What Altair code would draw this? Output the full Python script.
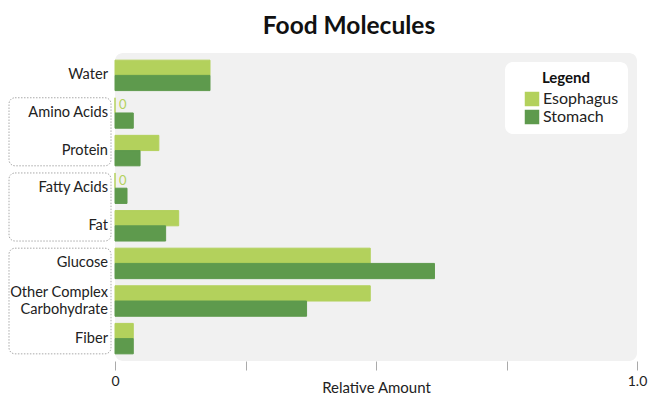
import altair as alt
import pandas as pd

categories = ["Water", "Amino Acids", "Protein", "Fatty Acids", "Fat",
              "Glucose", "Other Complex Carbohydrate", "Fiber"]
category_labels = ["Water", "Amino Acids", "Protein", "Fatty Acids", "Fat",
                   "Glucose", "Other Complex\nCarbohydrate", "Fiber"]
esophagus = [0.182, 0.0, 0.084, 0.0, 0.122, 0.489, 0.489, 0.035]
stomach = [0.182, 0.035, 0.048, 0.023, 0.097, 0.612, 0.367, 0.035]
organs = ["Esophagus", "Stomach"]
colors = ["#b3d15c", "#5e9a4d"]
group_start = ["Amino Acids", "Fatty Acids", "Glucose"]
group_end = ["Protein", "Fat", "Fiber"]

rows = []
for c, e, s in zip(categories, esophagus, stomach):
    rows.append({"category": c, "organ": "Esophagus", "value": e})
    rows.append({"category": c, "organ": "Stomach", "value": s})
df = pd.DataFrame(rows)
groups = pd.DataFrame({"start": group_start, "end": group_end})
labels_df = pd.DataFrame({"category": categories, "label": category_labels})
labels_df["lines"] = labels_df["label"].str.count("\n") + 1

FONT = "Lato"
yscale = alt.Scale(domain=categories, paddingInner=0.19, paddingOuter=0.19)
yaxis = alt.Axis(title=None, ticks=False, domain=False, labels=False)
xscale = alt.Scale(domain=[0, 1])
xaxis = alt.Axis(title="Relative Amount", values=[0, 0.25, 0.5, 0.75, 1.0],
                 labelExpr="datum.value == 0 ? '0' : (datum.value == 1 ? '1.0' : '')",
                 grid=False, domain=False, tickSize=9, tickColor="#aaa",
                 labelFontSize=14, labelColor="#222", labelPadding=4,
                 labelFlush=False, titleFontSize=15, titleColor="#222",
                 titleFontWeight="normal", titlePadding=-8, labelFont=FONT,
                 titleFont=FONT)

bars = alt.Chart(df).mark_bar(strokeWidth=1).encode(
    x=alt.X("value:Q", scale=xscale, axis=xaxis),
    y=alt.Y("category:N", scale=yscale, axis=yaxis),
    yOffset=alt.YOffset("organ:N", scale=alt.Scale(domain=organs)),
    color=alt.Color("organ:N", scale=alt.Scale(domain=organs, range=colors),
                    legend=alt.Legend(title="Legend", orient="top-right",
                                      offset=9, fillColor="white",
                                      cornerRadius=8, padding=9,
                                      symbolOffset=10,
                                      titleFontSize=15, titleFontWeight="bold",
                                      titleColor="#111", titleAnchor="middle",
                                      titleFont=FONT, labelFont=FONT,
                                      titlePadding=5,
                                      labelFontSize=16, labelColor="#222",
                                      symbolType="square", symbolSize=210,
                                      symbolStrokeWidth=0, rowPadding=2,
                                      labelOffset=3)),
    stroke=alt.Stroke("organ:N", scale=alt.Scale(domain=organs, range=colors),
                      legend=None),
)

zeros = alt.Chart(df).transform_filter(
    "datum.value == 0"
).mark_text(align="left", baseline="middle", dx=4, fontSize=13,
            color=colors[0], font=FONT).encode(
    x=alt.X("value:Q", scale=xscale, axis=xaxis),
    y=alt.Y("category:N", scale=yscale, axis=yaxis),
    yOffset=alt.YOffset("organ:N", scale=alt.Scale(domain=organs)),
    text=alt.Text("value:Q", format="d"),
)

label_props = dict(align="right", baseline="middle", fontSize=14.6,
                   color="#222", font=FONT, lineBreak="\n", lineHeight=17)
labels_single = alt.Chart(labels_df).transform_filter(
    "datum.lines == 1"
).mark_text(**label_props).encode(
    x=alt.value(-7),
    y=alt.Y("category:N", scale=yscale, axis=yaxis),
    text="label:N",
)
labels_multi = alt.Chart(labels_df).transform_filter(
    "datum.lines > 1"
).mark_text(dy=-8.5, **label_props).encode(
    x=alt.value(-7),
    y=alt.Y("category:N", scale=yscale, axis=yaxis),
    text="label:N",
)

boxes = alt.Chart(groups).mark_rect(
    fill="transparent", stroke="#aaa", strokeDash=[1.5, 1.5], strokeWidth=1,
    cornerRadius=6
).encode(
    x=alt.value(-106), x2=alt.value(-4),
    y=alt.Y("start:N", scale=yscale, axis=yaxis, bandPosition=0),
    y2=alt.Y2("end:N", bandPosition=1),
)

chart = alt.layer(boxes, bars, zeros, labels_single, labels_multi).properties(
    width=522, height=308,
    title=alt.TitleParams("Food Molecules", fontSize=24.5, fontWeight="bold",
                          color="#111", font=FONT, anchor="middle", dx=-27,
                          offset=14),
    padding={"left": 0, "top": 5, "right": 5, "bottom": 5},
).configure_view(
    fill="#f1f1f1", strokeWidth=0, cornerRadius=8
)

chart.save("out.html", embed_options={"renderer": "svg", "actions": False})
